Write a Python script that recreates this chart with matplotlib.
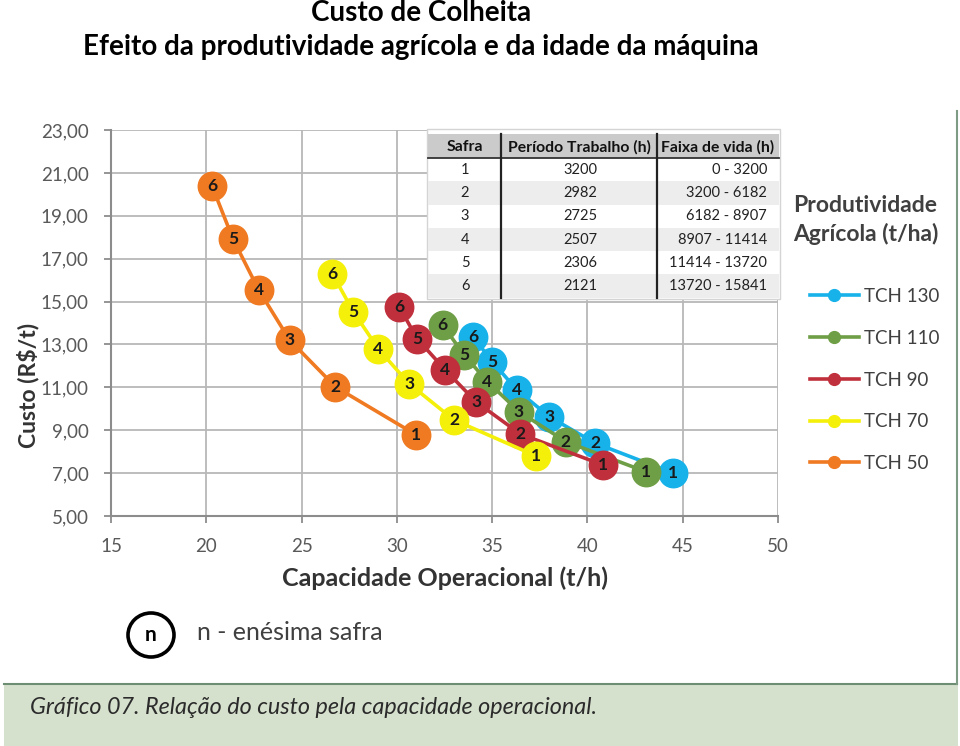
import matplotlib
matplotlib.use('Agg')
import matplotlib.pyplot as plt
from matplotlib.lines import Line2D
from matplotlib.patches import Rectangle, Ellipse
from matplotlib.ticker import FuncFormatter

plt.rcParams['font.family'] = ['Lato', 'DejaVu Sans']

# series (legend order)
series = ['TCH 130', 'TCH 110', 'TCH 90', 'TCH 70', 'TCH 50']
colors = ['#17B2EA', '#6E9E45', '#C0303C', '#F5F00A', '#F07A22']
safras = [1, 2, 3, 4, 5, 6]

cap_130 = [44.5, 40.4, 38.0, 36.3, 35.0, 34.0]
custo_130 = [7.00, 8.40, 9.63, 10.88, 12.20, 13.36]
cap_110 = [43.05, 38.86, 36.41, 34.75, 33.53, 32.40]
custo_110 = [7.07, 8.47, 9.87, 11.27, 12.51, 13.91]
cap_90 = [40.81, 36.47, 34.16, 32.54, 31.07, 30.13]
custo_90 = [7.38, 8.83, 10.32, 11.81, 13.26, 14.75]
cap_70 = [37.30, 33.00, 30.65, 29.03, 27.72, 26.62]
custo_70 = [7.80, 9.48, 11.16, 12.79, 14.52, 16.29]
cap_50 = [31.02, 26.78, 24.37, 22.75, 21.40, 20.30]
custo_50 = [8.78, 11.02, 13.21, 15.54, 17.92, 20.39]

caps = [cap_130, cap_110, cap_90, cap_70, cap_50]
custos = [custo_130, custo_110, custo_90, custo_70, custo_50]

x_ticks = [15, 20, 25, 30, 35, 40, 45, 50]
y_ticks = [5, 7, 9, 11, 13, 15, 17, 19, 21, 23]

# table
tab_header = ['Safra', 'Período Trabalho (h)', 'Faixa de vida (h)']
tab_safra = ['1', '2', '3', '4', '5', '6']
tab_periodo = ['3200', '2982', '2725', '2507', '2306', '2121']
tab_faixa = ['0 - 3200', '3200 - 6182', '6182 - 8907', '8907 - 11414',
             '11414 - 13720', '13720 - 15841']

W, H = 960, 746


def fx(x):
    return x / W


def fy(y):
    return 1 - y / H


fig = plt.figure(figsize=(9.6, 7.46), dpi=100)

# caption band and frame
fig.add_artist(Rectangle((fx(4), 0), fx(958) - fx(4), fy(684), transform=fig.transFigure,
                         facecolor='#D6E1CD', edgecolor='none', zorder=0))
fig.add_artist(Line2D([fx(4), fx(957)], [fy(684), fy(684)], transform=fig.transFigure,
                      color='#6E8E74', lw=1.5))
fig.add_artist(Line2D([fx(957), fx(957)], [fy(111), fy(684)], transform=fig.transFigure,
                      color='#7E9C84', lw=1.5))

# titles
fig.text(fx(421), fy(13), 'Custo de Colheita', ha='center', va='center',
         fontsize=20, fontweight='bold', color='black')
fig.text(fx(421), fy(47), 'Efeito da produtividade agrícola e da idade da máquina',
         ha='center', va='center', fontsize=20, fontweight='bold', color='black')

# main axes
ax = fig.add_axes([fx(111), fy(516), fx(778) - fx(111), fy(130) - fy(516)])
for i, (name, c) in enumerate(zip(series, colors)):
    ax.plot(caps[i], custos[i], color=c, lw=2.6, marker='o', ms=20.5,
            mec=c, mfc=c, zorder=3 + i)
    for x, y, n in zip(caps[i], custos[i], safras):
        ax.text(x, y, str(n), ha='center', va='center', fontsize=12.5,
                fontweight='bold', color='#1a1a1a', zorder=3.5 + i)

ax.set_xlim(15, 50)
ax.set_ylim(5, 23)
ax.set_xticks(x_ticks)
ax.set_yticks(y_ticks)
ax.yaxis.set_major_formatter(FuncFormatter(lambda v, p: f'{v:.2f}'.replace('.', ',')))
ax.grid(True, color='#B8B8B8', lw=1.3)
ax.set_axisbelow(True)
for s in ['top', 'right']:
    ax.spines[s].set_visible(False)
for s in ['left', 'bottom']:
    ax.spines[s].set_color('#8C8C8C')
    ax.spines[s].set_linewidth(1.5)
ax.tick_params(axis='both', length=5, width=1.3, color='#8C8C8C',
               labelsize=13.5, labelcolor='#595959')
ax.tick_params(axis='y', pad=11)
ax.tick_params(axis='x', pad=11)
ax.set_xlabel('Capacidade Operacional (t/h)', fontsize=18, fontweight='bold',
              color='#333333', labelpad=8)
fig.text(fx(28), fy(385), 'Custo (R$/t)', rotation=90, ha='center', va='center',
         fontsize=16.5, fontweight='bold', color='#333333')

# table overlay
tax = fig.add_axes([fx(425), fy(301), fx(782) - fx(425), fy(127) - fy(301)])
tax.set_xlim(425, 782)
tax.set_ylim(301, 127)
tax.axis('off')
tax.add_patch(Rectangle((427, 129), 353, 170, facecolor='white', edgecolor='#D4D4D4', lw=1))
tax.add_patch(Rectangle((428, 134), 351, 24, facecolor='#CBCBCB', edgecolor='none'))
row_h = 23.3
for r in range(6):
    top = 158 + r * row_h
    if r % 2 == 1:
        tax.add_patch(Rectangle((428, top), 351, row_h, facecolor='#EDEDED', edgecolor='none'))
    yc = top + row_h / 2
    tax.text(465, yc, tab_safra[r], ha='center', va='center', fontsize=10.5, color='#222222')
    tax.text(580, yc, tab_periodo[r], ha='center', va='center', fontsize=10.5, color='#222222')
    tax.text(767, yc, tab_faixa[r], ha='right', va='center', fontsize=10.5, color='#222222')
tax.text(465, 147, tab_header[0], ha='center', va='center', fontsize=11.3,
         fontweight='bold', color='#111111')
tax.text(579, 147, tab_header[1], ha='center', va='center', fontsize=11.3,
         fontweight='bold', color='#111111')
tax.text(718, 147, tab_header[2], ha='center', va='center', fontsize=11.3,
         fontweight='bold', color='#111111')
tax.plot([428, 779], [158, 158], color='#333333', lw=1.3)
tax.plot([501, 501], [134, 298], color='#222222', lw=1.6)
tax.plot([657, 657], [134, 298], color='#222222', lw=1.6)

# legend
fig.text(fx(793), fy(205), 'Produtividade', ha='left', va='center', fontsize=16.5,
         fontweight='bold', color='#404040')
fig.text(fx(793), fy(234), 'Agrícola (t/ha)', ha='left', va='center', fontsize=16.5,
         fontweight='bold', color='#404040')
handles = [Line2D([], [], color=c, lw=2.6, marker='o', ms=8.5) for c in colors]
fig.legend(handles, series, loc='upper left', bbox_to_anchor=(fx(810), fy(288)),
           frameon=False, fontsize=13.5, labelcolor='#404040', handlelength=2.6,
           handletextpad=0.3, labelspacing=1.32, borderpad=0, borderaxespad=0)

# "n" note
fig.add_artist(Ellipse((fx(151), fy(635)), 46 / W, 44 / H, transform=fig.transFigure,
                       fill=False, ec='black', lw=2.6))
fig.text(fx(151), fy(635), 'n', ha='center', va='center', fontsize=15,
         fontweight='bold', color='black')
fig.text(fx(197), fy(632), 'n - enésima safra', ha='left', va='center', fontsize=18,
         color='#404040')

# caption
fig.text(fx(30), fy(707), 'Gráfico 07. Relação do custo pela capacidade operacional.',
         ha='left', va='center', fontsize=16.8, style='italic', color='#2B2B2B')

fig.savefig('out.png', dpi=100)
